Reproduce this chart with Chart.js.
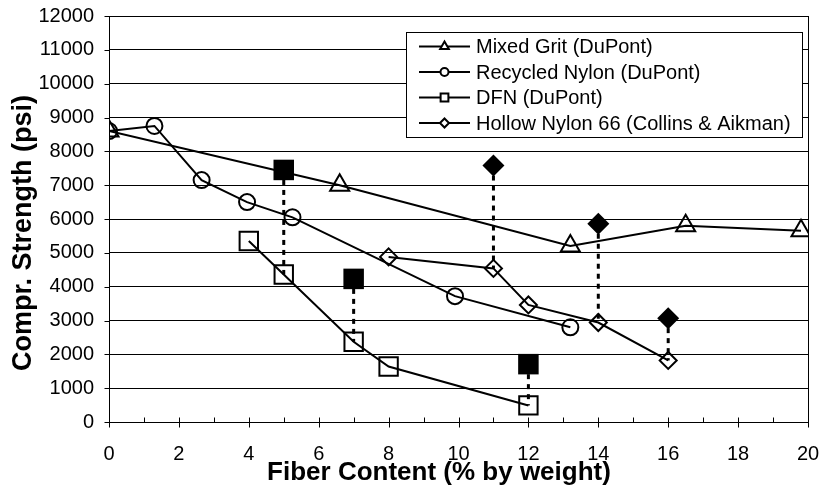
<!DOCTYPE html>
<html lang="en">
<head>
<meta charset="UTF-8">
<title>Compr. Strength vs Fiber Content</title>
<style>
    html, body { margin: 0; padding: 0; background: #fff; }
    #grafico-box { width: 823px; height: 493px; }
</style>
</head>
<body>
<div id="grafico-box"><canvas id="grafico"></canvas></div>

<script src="https://cdn.jsdelivr.net/npm/chart.js"></script>
<script>
// Mixed Grit (DuPont)
const gritX = [0, 6.6, 13.2, 16.5, 19.8];
const gritY = [8600, 7000, 5200, 5800, 5650];
// Recycled Nylon (DuPont)
const nylonX = [0, 1.3, 2.65, 3.95, 5.25, 9.9, 13.2];
const nylonY = [8600, 8750, 7150, 6500, 6050, 3720, 2800];
// DFN (DuPont), open and filled markers
const dfnX = [4, 5, 7, 8, 12];
const dfnY = [5350, 4360, 2370, 1640, 490];
const dfnFilledX = [5, 7, 12];
const dfnFilledY = [7450, 4230, 1710];
// Hollow Nylon 66 (Collins & Aikman), open and filled markers
const hollowX = [8, 11, 12, 14, 16];
const hollowY = [4880, 4540, 3460, 2940, 1820];
const hollowFilledX = [11, 14, 16];
const hollowFilledY = [7580, 5860, 3070];

const legendNames = ['Mixed Grit (DuPont)', 'Recycled Nylon (DuPont)', 'DFN (DuPont)', 'Hollow Nylon 66 (Collins & Aikman)'];
const xTickValues = [0, 2, 4, 6, 8, 10, 12, 14, 16, 18, 20];
const yTickValues = [0, 1000, 2000, 3000, 4000, 5000, 6000, 7000, 8000, 9000, 10000, 11000, 12000];
const xTitle = 'Fiber Content (% by weight)';
const yTitle = 'Compr. Strength (psi)';

const FONTE = "'Liberation Sans', Arial, sans-serif";

function pontos(xs, ys) {
    let lista = [];
    for (let i = 0; i < xs.length; i++) {
        lista.push({ x: xs[i], y: ys[i] });
    }
    return lista;
}

// dotted connectors: filled marker down to the open marker at the same x
function conectores(fx, fy, ox, oy) {
    let lista = [];
    for (let i = 0; i < fx.length; i++) {
        let j = ox.indexOf(fx[i]);
        lista.push({
            data: [{ x: fx[i], y: fy[i] }, { x: ox[j], y: oy[j] }],
            borderColor: '#000',
            borderWidth: 3,
            borderDash: [5, 5],
            pointRadius: 0,
            showLine: true,
            fill: false
        });
    }
    return lista;
}

function serie(nome, xs, ys, estilo, raio) {
    return {
        label: nome,
        data: pontos(xs, ys),
        showLine: true,
        borderColor: '#000',
        borderWidth: 2,
        pointStyle: estilo,
        pointRadius: raio,
        pointBorderWidth: 2,
        pointBorderColor: '#000',
        pointBackgroundColor: 'rgba(0,0,0,0)',
        fill: false
    };
}

function cheio(xs, ys, estilo, raio) {
    return {
        data: pontos(xs, ys),
        showLine: false,
        pointStyle: estilo,
        pointRadius: raio,
        pointBorderWidth: 0,
        pointBackgroundColor: '#000',
        pointBorderColor: '#000'
    };
}

const datasets = [
    serie(legendNames[0], gritX, gritY, 'triangle', 11),
    serie(legendNames[1], nylonX, nylonY, 'circle', 8),
    serie(legendNames[2], dfnX, dfnY, 'rect', 13),
    serie(legendNames[3], hollowX, hollowY, 'rectRot', 8.5),
    cheio(dfnFilledX, dfnFilledY, 'rect', 14.5),
    cheio(hollowFilledX, hollowFilledY, 'rectRot', 11)
].concat(conectores(dfnFilledX, dfnFilledY, dfnX, dfnY))
 .concat(conectores(hollowFilledX, hollowFilledY, hollowX, hollowY));

// box round the plot, tick marks, axis titles
const moldura = {
    id: 'moldura',
    afterDatasetsDraw(chart) {
        const { ctx, chartArea: a, scales } = chart;
        const baixo = Math.round(a.bottom) + 0.5;
        const esq = Math.round(a.left) + 0.5;
        ctx.save();
        ctx.strokeStyle = '#000';
        ctx.lineWidth = 1;
        ctx.strokeRect(esq, Math.round(a.top) + 0.5,
            Math.round(a.right - a.left), Math.round(a.bottom - a.top));
        ctx.beginPath();
        for (let v = 0; v <= 20; v++) {
            let px = Math.round(scales.x.getPixelForValue(v)) + 0.5;
            ctx.moveTo(px, baixo - 5);
            ctx.lineTo(px, v % 2 === 0 ? baixo + 5 : baixo);
        }
        for (let i = 0; i < yTickValues.length; i++) {
            let py = Math.round(scales.y.getPixelForValue(yTickValues[i])) + 0.5;
            ctx.moveTo(esq - 5, py);
            ctx.lineTo(esq, py);
        }
        ctx.stroke();

        ctx.fillStyle = '#000';
        ctx.textAlign = 'center';
        ctx.textBaseline = 'alphabetic';
        ctx.font = 'bold 26px ' + FONTE;
        ctx.fillText(xTitle, 439, 480);
        ctx.translate(31, 233);
        ctx.rotate(-Math.PI / 2);
        ctx.font = 'bold 27px ' + FONTE;
        ctx.fillText(yTitle, 0, 0);
        ctx.restore();
    }
};

// legend box inside the plot
const legenda = {
    id: 'legenda',
    afterDraw(chart) {
        const ctx = chart.ctx;
        const bx = 406.5, by = 32.5, bw = 396, bh = 105;
        ctx.save();
        ctx.fillStyle = '#fff';
        ctx.fillRect(bx, by, bw, bh);
        ctx.strokeStyle = '#000';
        ctx.lineWidth = 1;
        ctx.strokeRect(bx, by, bw, bh);
        const estilos = ['triangle', 'circle', 'rect', 'rectRot'];
        const raios = [5, 4, 5.5, 4.5];
        ctx.font = '20px ' + FONTE;
        ctx.textBaseline = 'middle';
        for (let i = 0; i < legendNames.length; i++) {
            let yy = 46.5 + i * 25.5;
            ctx.strokeStyle = '#000';
            ctx.lineWidth = 2;
            ctx.beginPath();
            ctx.moveTo(419, yy);
            ctx.lineTo(470, yy);
            ctx.stroke();
            ctx.fillStyle = '#fff';
            Chart.helpers.drawPoint(ctx, { pointStyle: estilos[i], radius: raios[i], borderWidth: 2, rotation: 0 }, 444.5, yy);
            ctx.fillStyle = '#000';
            ctx.fillText(legendNames[i], 476, yy + 1);
        }
        ctx.restore();
    }
};

const ctx = document.getElementById('grafico').getContext('2d');

new Chart(ctx, {
    type: 'scatter',
    data: { datasets: datasets },
    options: {
        responsive: true,
        maintainAspectRatio: false,
        animation: false,
        layout: { padding: { top: 12, right: 5, left: 0, bottom: 0 } },
        plugins: {
            legend: { display: false },
            tooltip: { enabled: false }
        },
        scales: {
            x: {
                type: 'linear',
                min: 0,
                max: 20,
                afterBuildTicks: s => { s.ticks = xTickValues.map(v => ({ value: v })); },
                afterFit: s => { s.height = 71; },
                ticks: { color: '#000', font: { family: FONTE, size: 20 }, padding: 1, maxRotation: 0, callback: v => String(v) },
                grid: { drawOnChartArea: false, drawTicks: true, tickLength: 19, tickColor: 'rgba(0,0,0,0)', color: 'rgba(0,0,0,0)' },
                border: { color: '#000', width: 1 }
            },
            y: {
                min: 0,
                max: 12000,
                afterBuildTicks: s => { s.ticks = yTickValues.map(v => ({ value: v })); },
                afterFit: s => { s.width = 109; },
                ticks: { color: '#000', font: { family: FONTE, size: 20 }, padding: 4, callback: v => String(v) },
                grid: { color: '#000', lineWidth: 1, tickLength: 11, tickColor: 'rgba(0,0,0,0)' },
                border: { color: '#000', width: 1 }
            }
        }
    },
    plugins: [moldura, legenda]
});
</script>
</body>
</html>
